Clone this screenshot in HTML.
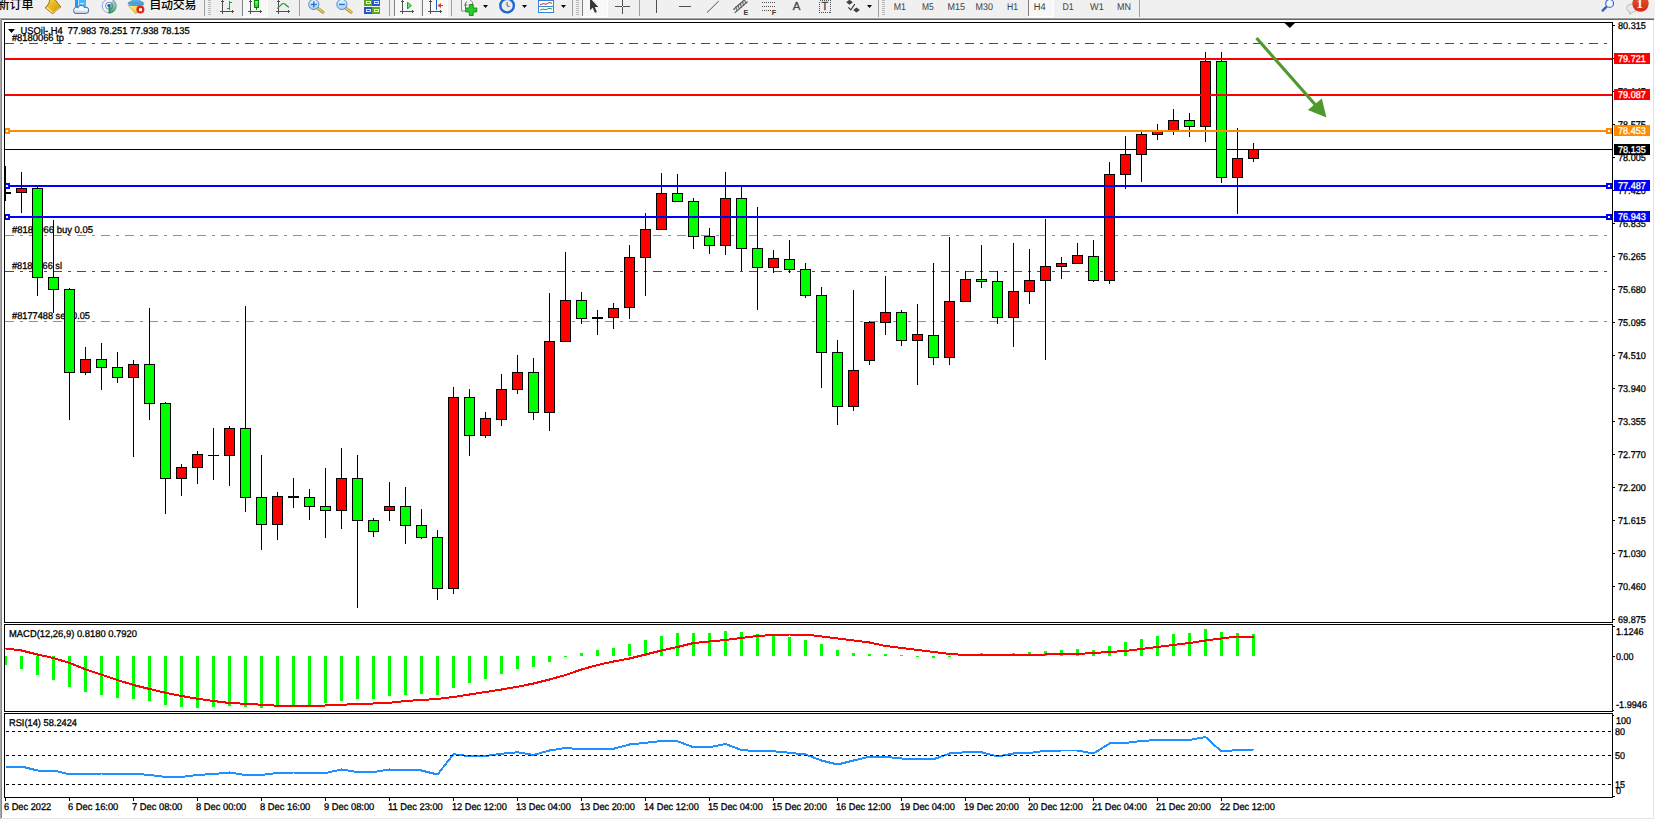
<!DOCTYPE html>
<html><head><meta charset="utf-8"><title>USOil H4</title>
<style>
html,body{margin:0;padding:0;}
body{width:1655px;height:820px;overflow:hidden;background:#fff;position:relative;font-family:"Liberation Sans","Noto Sans CJK SC",sans-serif;}
#tb{position:absolute;left:0;top:0;width:1655px;height:18px;background:#F0F0F0;overflow:hidden;}
#tbline1{position:absolute;left:0;top:17px;width:1654px;height:1px;background:#F5F5F5;}
#tbline2{position:absolute;left:0;top:18px;width:1654px;height:1px;background:#A0A0A0;}
#tbline3{position:absolute;left:0;top:19px;width:1654px;height:1px;background:#696969;}
#lft{position:absolute;left:0;top:18px;width:1px;height:801px;background:#A8A8A8;}
#lft2{position:absolute;left:1px;top:19px;width:1px;height:799px;background:#868686;}
#rgt{position:absolute;left:1653px;top:20px;width:1px;height:799px;background:#E3E3E3;}
#rgt2{position:absolute;left:1654px;top:0;width:1px;height:20px;background:#F0F0F0;}
#btm{position:absolute;left:2px;top:818px;width:1652px;height:1px;background:#E3E3E3;}
#btm2{display:none;}
svg{position:absolute;left:0;top:0;}
</style></head><body>
<svg width="1655" height="820" viewBox="0 0 1655 820">
<g shape-rendering="crispEdges">
<line x1="5" y1="43.5" x2="1612" y2="43.5" stroke="#FF0000" stroke-width="1" stroke-dasharray="9 6 3 6"/>
<line x1="5" y1="235.5" x2="1612" y2="235.5" stroke="#32CD32" stroke-width="1" stroke-dasharray="9 6 3 6"/>
<line x1="5" y1="271.5" x2="1612" y2="271.5" stroke="#FF0000" stroke-width="1" stroke-dasharray="9 6 3 6"/>
<line x1="5" y1="321.5" x2="1612" y2="321.5" stroke="#32CD32" stroke-width="1" stroke-dasharray="9 6 3 6"/>
<rect x="5" y="149" width="1607" height="1" fill="#000"/>
</g>
<g font-family="Liberation Sans, sans-serif" font-size="9.8" text-rendering="geometricPrecision" stroke="#000" stroke-width="0.3">
<text x="20.6" y="34" fill="#000" text-anchor="start" xml:space="preserve" textLength="169.1" lengthAdjust="spacingAndGlyphs">USOil-,H4&#160; 77.983 78.251 77.938 78.135</text>
<text x="11.9" y="41" fill="#000" text-anchor="start"  textLength="52.1" lengthAdjust="spacingAndGlyphs">#8180066 tp</text>
<text x="12" y="233" fill="#000" text-anchor="start"  textLength="81" lengthAdjust="spacingAndGlyphs">#8180066 buy 0.05</text>
<text x="12" y="269" fill="#000" text-anchor="start"  textLength="50" lengthAdjust="spacingAndGlyphs">#8180066 sl</text>
<text x="12" y="319" fill="#000" text-anchor="start"  textLength="78" lengthAdjust="spacingAndGlyphs">#8177488 sell 0.05</text>
</g>
<path d="M8 29 L15 29 L11.5 33 Z" fill="#000"/>
<g shape-rendering="crispEdges">
<rect x="5" y="166" width="1" height="35" fill="#000"/>
<rect x="5" y="192" width="6" height="2" fill="#000"/>
<rect x="21" y="172" width="1" height="41" fill="#000"/>
<rect x="16" y="188" width="11" height="5" fill="#000"/>
<rect x="17" y="189" width="9" height="3" fill="#FF0000"/>
<rect x="37" y="187" width="1" height="109" fill="#000"/>
<rect x="32" y="188" width="11" height="90" fill="#000"/>
<rect x="33" y="189" width="9" height="88" fill="#00FF00"/>
<rect x="53" y="220" width="1" height="93" fill="#000"/>
<rect x="48" y="277" width="11" height="13" fill="#000"/>
<rect x="49" y="278" width="9" height="11" fill="#00FF00"/>
<rect x="69" y="288" width="1" height="132" fill="#000"/>
<rect x="64" y="289" width="11" height="84" fill="#000"/>
<rect x="65" y="290" width="9" height="82" fill="#00FF00"/>
<rect x="85" y="347" width="1" height="28" fill="#000"/>
<rect x="80" y="359" width="11" height="14" fill="#000"/>
<rect x="81" y="360" width="9" height="12" fill="#FF0000"/>
<rect x="101" y="343" width="1" height="47" fill="#000"/>
<rect x="96" y="359" width="11" height="9" fill="#000"/>
<rect x="97" y="360" width="9" height="7" fill="#00FF00"/>
<rect x="117" y="352" width="1" height="31" fill="#000"/>
<rect x="112" y="367" width="11" height="11" fill="#000"/>
<rect x="113" y="368" width="9" height="9" fill="#00FF00"/>
<rect x="133" y="360" width="1" height="97" fill="#000"/>
<rect x="128" y="364" width="11" height="14" fill="#000"/>
<rect x="129" y="365" width="9" height="12" fill="#FF0000"/>
<rect x="149" y="308" width="1" height="112" fill="#000"/>
<rect x="144" y="364" width="11" height="40" fill="#000"/>
<rect x="145" y="365" width="9" height="38" fill="#00FF00"/>
<rect x="165" y="402" width="1" height="112" fill="#000"/>
<rect x="160" y="403" width="11" height="76" fill="#000"/>
<rect x="161" y="404" width="9" height="74" fill="#00FF00"/>
<rect x="181" y="464" width="1" height="32" fill="#000"/>
<rect x="176" y="467" width="11" height="12" fill="#000"/>
<rect x="177" y="468" width="9" height="10" fill="#FF0000"/>
<rect x="197" y="451" width="1" height="33" fill="#000"/>
<rect x="192" y="454" width="11" height="14" fill="#000"/>
<rect x="193" y="455" width="9" height="12" fill="#FF0000"/>
<rect x="213" y="428" width="1" height="52" fill="#000"/>
<rect x="208" y="455" width="11" height="1" fill="#000"/>
<rect x="229" y="426" width="1" height="60" fill="#000"/>
<rect x="224" y="428" width="11" height="28" fill="#000"/>
<rect x="225" y="429" width="9" height="26" fill="#FF0000"/>
<rect x="245" y="306" width="1" height="206" fill="#000"/>
<rect x="240" y="428" width="11" height="70" fill="#000"/>
<rect x="241" y="429" width="9" height="68" fill="#00FF00"/>
<rect x="261" y="455" width="1" height="95" fill="#000"/>
<rect x="256" y="497" width="11" height="28" fill="#000"/>
<rect x="257" y="498" width="9" height="26" fill="#00FF00"/>
<rect x="277" y="492" width="1" height="48" fill="#000"/>
<rect x="272" y="496" width="11" height="29" fill="#000"/>
<rect x="273" y="497" width="9" height="27" fill="#FF0000"/>
<rect x="293" y="478" width="1" height="30" fill="#000"/>
<rect x="288" y="496" width="11" height="2" fill="#000"/>
<rect x="309" y="489" width="1" height="31" fill="#000"/>
<rect x="304" y="497" width="11" height="10" fill="#000"/>
<rect x="305" y="498" width="9" height="8" fill="#00FF00"/>
<rect x="325" y="468" width="1" height="70" fill="#000"/>
<rect x="320" y="506" width="11" height="5" fill="#000"/>
<rect x="321" y="507" width="9" height="3" fill="#00FF00"/>
<rect x="341" y="448" width="1" height="81" fill="#000"/>
<rect x="336" y="478" width="11" height="33" fill="#000"/>
<rect x="337" y="479" width="9" height="31" fill="#FF0000"/>
<rect x="357" y="455" width="1" height="153" fill="#000"/>
<rect x="352" y="478" width="11" height="43" fill="#000"/>
<rect x="353" y="479" width="9" height="41" fill="#00FF00"/>
<rect x="373" y="518" width="1" height="19" fill="#000"/>
<rect x="368" y="520" width="11" height="12" fill="#000"/>
<rect x="369" y="521" width="9" height="10" fill="#00FF00"/>
<rect x="389" y="482" width="1" height="39" fill="#000"/>
<rect x="384" y="506" width="11" height="5" fill="#000"/>
<rect x="385" y="507" width="9" height="3" fill="#FF0000"/>
<rect x="405" y="487" width="1" height="57" fill="#000"/>
<rect x="400" y="506" width="11" height="20" fill="#000"/>
<rect x="401" y="507" width="9" height="18" fill="#00FF00"/>
<rect x="421" y="509" width="1" height="30" fill="#000"/>
<rect x="416" y="525" width="11" height="13" fill="#000"/>
<rect x="417" y="526" width="9" height="11" fill="#00FF00"/>
<rect x="437" y="530" width="1" height="70" fill="#000"/>
<rect x="432" y="537" width="11" height="52" fill="#000"/>
<rect x="433" y="538" width="9" height="50" fill="#00FF00"/>
<rect x="453" y="387" width="1" height="207" fill="#000"/>
<rect x="448" y="397" width="11" height="192" fill="#000"/>
<rect x="449" y="398" width="9" height="190" fill="#FF0000"/>
<rect x="469" y="389" width="1" height="67" fill="#000"/>
<rect x="464" y="397" width="11" height="39" fill="#000"/>
<rect x="465" y="398" width="9" height="37" fill="#00FF00"/>
<rect x="485" y="412" width="1" height="26" fill="#000"/>
<rect x="480" y="418" width="11" height="18" fill="#000"/>
<rect x="481" y="419" width="9" height="16" fill="#FF0000"/>
<rect x="501" y="374" width="1" height="52" fill="#000"/>
<rect x="496" y="389" width="11" height="31" fill="#000"/>
<rect x="497" y="390" width="9" height="29" fill="#FF0000"/>
<rect x="517" y="355" width="1" height="39" fill="#000"/>
<rect x="512" y="372" width="11" height="18" fill="#000"/>
<rect x="513" y="373" width="9" height="16" fill="#FF0000"/>
<rect x="533" y="358" width="1" height="62" fill="#000"/>
<rect x="528" y="372" width="11" height="41" fill="#000"/>
<rect x="529" y="373" width="9" height="39" fill="#00FF00"/>
<rect x="549" y="293" width="1" height="138" fill="#000"/>
<rect x="544" y="341" width="11" height="72" fill="#000"/>
<rect x="545" y="342" width="9" height="70" fill="#FF0000"/>
<rect x="565" y="252" width="1" height="90" fill="#000"/>
<rect x="560" y="300" width="11" height="42" fill="#000"/>
<rect x="561" y="301" width="9" height="40" fill="#FF0000"/>
<rect x="581" y="292" width="1" height="32" fill="#000"/>
<rect x="576" y="300" width="11" height="19" fill="#000"/>
<rect x="577" y="301" width="9" height="17" fill="#00FF00"/>
<rect x="597" y="310" width="1" height="25" fill="#000"/>
<rect x="592" y="317" width="11" height="2" fill="#000"/>
<rect x="613" y="303" width="1" height="26" fill="#000"/>
<rect x="608" y="308" width="11" height="10" fill="#000"/>
<rect x="609" y="309" width="9" height="8" fill="#FF0000"/>
<rect x="629" y="245" width="1" height="74" fill="#000"/>
<rect x="624" y="257" width="11" height="51" fill="#000"/>
<rect x="625" y="258" width="9" height="49" fill="#FF0000"/>
<rect x="645" y="213" width="1" height="83" fill="#000"/>
<rect x="640" y="229" width="11" height="29" fill="#000"/>
<rect x="641" y="230" width="9" height="27" fill="#FF0000"/>
<rect x="661" y="173" width="1" height="57" fill="#000"/>
<rect x="656" y="193" width="11" height="37" fill="#000"/>
<rect x="657" y="194" width="9" height="35" fill="#FF0000"/>
<rect x="677" y="174" width="1" height="28" fill="#000"/>
<rect x="672" y="193" width="11" height="9" fill="#000"/>
<rect x="673" y="194" width="9" height="7" fill="#00FF00"/>
<rect x="693" y="198" width="1" height="51" fill="#000"/>
<rect x="688" y="201" width="11" height="36" fill="#000"/>
<rect x="689" y="202" width="9" height="34" fill="#00FF00"/>
<rect x="709" y="228" width="1" height="26" fill="#000"/>
<rect x="704" y="236" width="11" height="10" fill="#000"/>
<rect x="705" y="237" width="9" height="8" fill="#00FF00"/>
<rect x="725" y="172" width="1" height="83" fill="#000"/>
<rect x="720" y="198" width="11" height="48" fill="#000"/>
<rect x="721" y="199" width="9" height="46" fill="#FF0000"/>
<rect x="741" y="187" width="1" height="84" fill="#000"/>
<rect x="736" y="198" width="11" height="51" fill="#000"/>
<rect x="737" y="199" width="9" height="49" fill="#00FF00"/>
<rect x="757" y="207" width="1" height="103" fill="#000"/>
<rect x="752" y="248" width="11" height="20" fill="#000"/>
<rect x="753" y="249" width="9" height="18" fill="#00FF00"/>
<rect x="773" y="250" width="1" height="23" fill="#000"/>
<rect x="768" y="258" width="11" height="10" fill="#000"/>
<rect x="769" y="259" width="9" height="8" fill="#FF0000"/>
<rect x="789" y="240" width="1" height="33" fill="#000"/>
<rect x="784" y="259" width="11" height="11" fill="#000"/>
<rect x="785" y="260" width="9" height="9" fill="#00FF00"/>
<rect x="805" y="263" width="1" height="35" fill="#000"/>
<rect x="800" y="269" width="11" height="27" fill="#000"/>
<rect x="801" y="270" width="9" height="25" fill="#00FF00"/>
<rect x="821" y="287" width="1" height="101" fill="#000"/>
<rect x="816" y="295" width="11" height="58" fill="#000"/>
<rect x="817" y="296" width="9" height="56" fill="#00FF00"/>
<rect x="837" y="340" width="1" height="85" fill="#000"/>
<rect x="832" y="352" width="11" height="55" fill="#000"/>
<rect x="833" y="353" width="9" height="53" fill="#00FF00"/>
<rect x="853" y="290" width="1" height="121" fill="#000"/>
<rect x="848" y="370" width="11" height="37" fill="#000"/>
<rect x="849" y="371" width="9" height="35" fill="#FF0000"/>
<rect x="869" y="321" width="1" height="44" fill="#000"/>
<rect x="864" y="322" width="11" height="39" fill="#000"/>
<rect x="865" y="323" width="9" height="37" fill="#FF0000"/>
<rect x="885" y="276" width="1" height="59" fill="#000"/>
<rect x="880" y="312" width="11" height="11" fill="#000"/>
<rect x="881" y="313" width="9" height="9" fill="#FF0000"/>
<rect x="901" y="310" width="1" height="36" fill="#000"/>
<rect x="896" y="312" width="11" height="29" fill="#000"/>
<rect x="897" y="313" width="9" height="27" fill="#00FF00"/>
<rect x="917" y="304" width="1" height="81" fill="#000"/>
<rect x="912" y="334" width="11" height="7" fill="#000"/>
<rect x="913" y="335" width="9" height="5" fill="#FF0000"/>
<rect x="933" y="263" width="1" height="102" fill="#000"/>
<rect x="928" y="335" width="11" height="23" fill="#000"/>
<rect x="929" y="336" width="9" height="21" fill="#00FF00"/>
<rect x="949" y="237" width="1" height="128" fill="#000"/>
<rect x="944" y="301" width="11" height="57" fill="#000"/>
<rect x="945" y="302" width="9" height="55" fill="#FF0000"/>
<rect x="965" y="271" width="1" height="31" fill="#000"/>
<rect x="960" y="279" width="11" height="23" fill="#000"/>
<rect x="961" y="280" width="9" height="21" fill="#FF0000"/>
<rect x="981" y="245" width="1" height="43" fill="#000"/>
<rect x="976" y="279" width="11" height="3" fill="#000"/>
<rect x="977" y="280" width="9" height="1" fill="#00FF00"/>
<rect x="997" y="271" width="1" height="53" fill="#000"/>
<rect x="992" y="281" width="11" height="37" fill="#000"/>
<rect x="993" y="282" width="9" height="35" fill="#00FF00"/>
<rect x="1013" y="243" width="1" height="104" fill="#000"/>
<rect x="1008" y="291" width="11" height="27" fill="#000"/>
<rect x="1009" y="292" width="9" height="25" fill="#FF0000"/>
<rect x="1029" y="249" width="1" height="55" fill="#000"/>
<rect x="1024" y="280" width="11" height="12" fill="#000"/>
<rect x="1025" y="281" width="9" height="10" fill="#FF0000"/>
<rect x="1045" y="219" width="1" height="141" fill="#000"/>
<rect x="1040" y="266" width="11" height="15" fill="#000"/>
<rect x="1041" y="267" width="9" height="13" fill="#FF0000"/>
<rect x="1061" y="257" width="1" height="22" fill="#000"/>
<rect x="1056" y="263" width="11" height="4" fill="#000"/>
<rect x="1057" y="264" width="9" height="2" fill="#FF0000"/>
<rect x="1077" y="243" width="1" height="21" fill="#000"/>
<rect x="1072" y="255" width="11" height="9" fill="#000"/>
<rect x="1073" y="256" width="9" height="7" fill="#FF0000"/>
<rect x="1093" y="240" width="1" height="42" fill="#000"/>
<rect x="1088" y="256" width="11" height="25" fill="#000"/>
<rect x="1089" y="257" width="9" height="23" fill="#00FF00"/>
<rect x="1109" y="162" width="1" height="122" fill="#000"/>
<rect x="1104" y="174" width="11" height="107" fill="#000"/>
<rect x="1105" y="175" width="9" height="105" fill="#FF0000"/>
<rect x="1125" y="136" width="1" height="53" fill="#000"/>
<rect x="1120" y="154" width="11" height="21" fill="#000"/>
<rect x="1121" y="155" width="9" height="19" fill="#FF0000"/>
<rect x="1141" y="132" width="1" height="50" fill="#000"/>
<rect x="1136" y="134" width="11" height="21" fill="#000"/>
<rect x="1137" y="135" width="9" height="19" fill="#FF0000"/>
<rect x="1157" y="124" width="1" height="16" fill="#000"/>
<rect x="1152" y="131" width="11" height="4" fill="#000"/>
<rect x="1153" y="132" width="9" height="2" fill="#FF0000"/>
<rect x="1173" y="109" width="1" height="26" fill="#000"/>
<rect x="1168" y="120" width="11" height="12" fill="#000"/>
<rect x="1169" y="121" width="9" height="10" fill="#FF0000"/>
<rect x="1189" y="113" width="1" height="24" fill="#000"/>
<rect x="1184" y="120" width="11" height="7" fill="#000"/>
<rect x="1185" y="121" width="9" height="5" fill="#00FF00"/>
<rect x="1205" y="52" width="1" height="90" fill="#000"/>
<rect x="1200" y="61" width="11" height="66" fill="#000"/>
<rect x="1201" y="62" width="9" height="64" fill="#FF0000"/>
<rect x="1221" y="52" width="1" height="131" fill="#000"/>
<rect x="1216" y="61" width="11" height="117" fill="#000"/>
<rect x="1217" y="62" width="9" height="115" fill="#00FF00"/>
<rect x="1237" y="128" width="1" height="86" fill="#000"/>
<rect x="1232" y="158" width="11" height="20" fill="#000"/>
<rect x="1233" y="159" width="9" height="18" fill="#FF0000"/>
<rect x="1253" y="143" width="1" height="19" fill="#000"/>
<rect x="1248" y="149" width="11" height="10" fill="#000"/>
<rect x="1249" y="150" width="9" height="8" fill="#FF0000"/>
</g>
<g shape-rendering="crispEdges">
<rect x="5" y="58" width="1607" height="2" fill="#FF0000"/>
<rect x="5" y="94" width="1607" height="2" fill="#FF0000"/>
<rect x="5" y="130" width="1607" height="2" fill="#FF8C00"/><rect x="4" y="128" width="6" height="6" fill="#FF8C00"/><rect x="6" y="130" width="2" height="2" fill="#fff"/><rect x="1606" y="128" width="6" height="6" fill="#FF8C00"/><rect x="1608" y="130" width="2" height="2" fill="#fff"/>
<rect x="5" y="185" width="1607" height="2" fill="#0000FF"/><rect x="4" y="183" width="6" height="6" fill="#0000FF"/><rect x="6" y="185" width="2" height="2" fill="#fff"/><rect x="1606" y="183" width="6" height="6" fill="#0000FF"/><rect x="1608" y="185" width="2" height="2" fill="#fff"/>
<rect x="5" y="216" width="1607" height="2" fill="#0000FF"/><rect x="4" y="214" width="6" height="6" fill="#0000FF"/><rect x="6" y="216" width="2" height="2" fill="#fff"/><rect x="1606" y="214" width="6" height="6" fill="#0000FF"/><rect x="1608" y="216" width="2" height="2" fill="#fff"/>
</g>
<line x1="1256.5" y1="38" x2="1316" y2="105.5" stroke="#4E9A2F" stroke-width="3.2"/>
<path d="M1326.5 117.4 L1321.8 98.4 L1307.8 110.1 Z" fill="#4E9A2F"/>
<path d="M1284.5 23 L1295 23 L1289.8 28 Z" fill="#000"/>
<g shape-rendering="crispEdges">
<rect x="5" y="656" width="2" height="9" fill="#00FF00"/>
<rect x="20" y="656" width="3" height="13" fill="#00FF00"/>
<rect x="36" y="656" width="3" height="19" fill="#00FF00"/>
<rect x="52" y="656" width="3" height="24" fill="#00FF00"/>
<rect x="68" y="656" width="3" height="31" fill="#00FF00"/>
<rect x="84" y="656" width="3" height="36" fill="#00FF00"/>
<rect x="100" y="656" width="3" height="39" fill="#00FF00"/>
<rect x="116" y="656" width="3" height="42" fill="#00FF00"/>
<rect x="132" y="656" width="3" height="43" fill="#00FF00"/>
<rect x="148" y="656" width="3" height="45" fill="#00FF00"/>
<rect x="164" y="656" width="3" height="49" fill="#00FF00"/>
<rect x="180" y="656" width="3" height="51" fill="#00FF00"/>
<rect x="196" y="656" width="3" height="52" fill="#00FF00"/>
<rect x="212" y="656" width="3" height="51" fill="#00FF00"/>
<rect x="228" y="656" width="3" height="50" fill="#00FF00"/>
<rect x="244" y="656" width="3" height="51" fill="#00FF00"/>
<rect x="260" y="656" width="3" height="52" fill="#00FF00"/>
<rect x="276" y="656" width="3" height="50" fill="#00FF00"/>
<rect x="292" y="656" width="3" height="50" fill="#00FF00"/>
<rect x="308" y="656" width="3" height="49" fill="#00FF00"/>
<rect x="324" y="656" width="3" height="47" fill="#00FF00"/>
<rect x="340" y="656" width="3" height="45" fill="#00FF00"/>
<rect x="356" y="656" width="3" height="43" fill="#00FF00"/>
<rect x="372" y="656" width="3" height="43" fill="#00FF00"/>
<rect x="388" y="656" width="3" height="40" fill="#00FF00"/>
<rect x="404" y="656" width="3" height="39" fill="#00FF00"/>
<rect x="420" y="656" width="3" height="38" fill="#00FF00"/>
<rect x="436" y="656" width="3" height="39" fill="#00FF00"/>
<rect x="452" y="656" width="3" height="32" fill="#00FF00"/>
<rect x="468" y="656" width="3" height="27" fill="#00FF00"/>
<rect x="484" y="656" width="3" height="23" fill="#00FF00"/>
<rect x="500" y="656" width="3" height="18" fill="#00FF00"/>
<rect x="516" y="656" width="3" height="13" fill="#00FF00"/>
<rect x="532" y="656" width="3" height="11" fill="#00FF00"/>
<rect x="548" y="656" width="3" height="6" fill="#00FF00"/>
<rect x="564" y="656" width="3" height="1" fill="#00FF00"/>
<rect x="580" y="653" width="3" height="3" fill="#00FF00"/>
<rect x="596" y="650" width="3" height="6" fill="#00FF00"/>
<rect x="612" y="648" width="3" height="8" fill="#00FF00"/>
<rect x="628" y="644" width="3" height="12" fill="#00FF00"/>
<rect x="644" y="640" width="3" height="16" fill="#00FF00"/>
<rect x="660" y="636" width="3" height="20" fill="#00FF00"/>
<rect x="676" y="633" width="3" height="23" fill="#00FF00"/>
<rect x="692" y="633" width="3" height="23" fill="#00FF00"/>
<rect x="708" y="633" width="3" height="23" fill="#00FF00"/>
<rect x="724" y="631" width="3" height="25" fill="#00FF00"/>
<rect x="740" y="632" width="3" height="24" fill="#00FF00"/>
<rect x="756" y="634" width="3" height="22" fill="#00FF00"/>
<rect x="772" y="635" width="3" height="21" fill="#00FF00"/>
<rect x="788" y="637" width="3" height="19" fill="#00FF00"/>
<rect x="804" y="640" width="3" height="16" fill="#00FF00"/>
<rect x="820" y="644" width="3" height="12" fill="#00FF00"/>
<rect x="836" y="650" width="3" height="6" fill="#00FF00"/>
<rect x="852" y="653" width="3" height="3" fill="#00FF00"/>
<rect x="868" y="654" width="3" height="2" fill="#00FF00"/>
<rect x="884" y="654" width="3" height="2" fill="#00FF00"/>
<rect x="900" y="655" width="3" height="1" fill="#00FF00"/>
<rect x="916" y="656" width="3" height="1" fill="#00FF00"/>
<rect x="932" y="656" width="3" height="2" fill="#00FF00"/>
<rect x="948" y="656" width="3" height="1" fill="#00FF00"/>
<rect x="964" y="655" width="3" height="1" fill="#00FF00"/>
<rect x="980" y="653" width="3" height="3" fill="#00FF00"/>
<rect x="996" y="655" width="3" height="1" fill="#00FF00"/>
<rect x="1012" y="653" width="3" height="3" fill="#00FF00"/>
<rect x="1028" y="652" width="3" height="4" fill="#00FF00"/>
<rect x="1044" y="651" width="3" height="5" fill="#00FF00"/>
<rect x="1060" y="650" width="3" height="6" fill="#00FF00"/>
<rect x="1076" y="649" width="3" height="7" fill="#00FF00"/>
<rect x="1092" y="650" width="3" height="6" fill="#00FF00"/>
<rect x="1108" y="646" width="3" height="10" fill="#00FF00"/>
<rect x="1124" y="642" width="3" height="14" fill="#00FF00"/>
<rect x="1140" y="639" width="3" height="17" fill="#00FF00"/>
<rect x="1156" y="636" width="3" height="20" fill="#00FF00"/>
<rect x="1172" y="634" width="3" height="22" fill="#00FF00"/>
<rect x="1188" y="633" width="3" height="23" fill="#00FF00"/>
<rect x="1204" y="629" width="3" height="27" fill="#00FF00"/>
<rect x="1220" y="632" width="3" height="24" fill="#00FF00"/>
<rect x="1236" y="633" width="3" height="23" fill="#00FF00"/>
<rect x="1252" y="634" width="3" height="22" fill="#00FF00"/>
</g>
<polyline points="5.5,648.5 21.5,650.5 37.5,654.5 53.5,658.0 69.5,663.0 85.5,669.25 101.5,674.75 117.5,680.0 133.5,685.0 149.5,689.0 165.5,692.75 181.5,696.0 197.5,698.75 213.5,701.0 229.5,703.0 245.5,703.75 261.5,704.75 277.5,705.75 293.5,706.0 309.5,706.0 325.5,705.5 341.5,704.75 357.5,704.0 373.5,703.5 389.5,702.75 405.5,701.0 421.5,700.0 437.5,699.0 453.5,697.0 469.5,694.5 485.5,692.0 501.5,689.5 517.5,686.75 533.5,683.5 549.5,679.5 565.5,675.0 581.5,669.5 597.5,665.0 613.5,661.5 629.5,658.5 645.5,654.5 661.5,650.5 677.5,647.0 693.5,643.0 709.5,641.5 725.5,640.0 741.5,638.0 757.5,636.0 773.5,635.0 789.5,634.5 805.5,634.5 821.5,636.5 837.5,638.5 853.5,640.5 869.5,642.5 885.5,646.0 901.5,648.0 917.5,650.0 933.5,652.0 949.5,654.0 965.5,655.0 981.5,655.0 997.5,655.0 1013.5,655.0 1029.5,655.0 1045.5,654.5 1061.5,654.25 1077.5,654.0 1093.5,653.0 1109.5,652.0 1125.5,651.0 1141.5,649.0 1157.5,647.0 1173.5,645.0 1189.5,643.0 1205.5,640.5 1221.5,638.5 1237.5,636.5 1253.5,636.5" fill="none" stroke="#FF0000" stroke-width="2" stroke-linejoin="round" shape-rendering="crispEdges"/>
<polyline points="5.5,766.5 21.5,766.5 37.5,770.5 53.5,770.5 69.5,774.25 85.5,774.0 101.5,773.5 117.5,773.5 133.5,773.5 149.5,775.0 165.5,777.0 181.5,777.0 197.5,775.0 213.5,774.0 229.5,772.5 245.5,775.0 261.5,775.0 277.5,773.0 293.5,772.5 309.5,773.0 325.5,773.0 341.5,769.5 357.5,772.0 373.5,772.0 389.5,769.5 405.5,770.0 421.5,770.5 437.5,774.5 453.5,754.25 469.5,756.25 485.5,756.0 501.5,753.75 517.5,752.25 533.5,755.0 549.5,750.5 565.5,748.0 581.5,749.25 597.5,749.25 613.5,748.75 629.5,744.5 645.5,742.75 661.5,741.0 677.5,741.25 693.5,747.25 709.5,747.25 725.5,744.0 741.5,750.0 757.5,751.25 773.5,751.25 789.5,752.75 805.5,754.5 821.5,760.5 837.5,764.5 853.5,760.5 869.5,756.75 885.5,756.75 901.5,758.5 917.5,758.5 933.5,759.25 949.5,753.5 965.5,752.25 981.5,752.25 997.5,756.5 1013.5,753.5 1029.5,753.0 1045.5,750.75 1061.5,750.5 1077.5,750.5 1093.5,753.5 1109.5,743.5 1125.5,743.0 1141.5,741.0 1157.5,740.0 1173.5,740.0 1189.5,740.0 1205.5,737.0 1221.5,751.5 1237.5,750.0 1253.5,749.5" fill="none" stroke="#1E90FF" stroke-width="2" stroke-linejoin="round" shape-rendering="crispEdges"/>
<g shape-rendering="crispEdges">
<line x1="6" y1="731.5" x2="1612" y2="731.5" stroke="#000" stroke-width="1" stroke-dasharray="3 3"/>
<line x1="6" y1="755.5" x2="1612" y2="755.5" stroke="#000" stroke-width="1" stroke-dasharray="3 3"/>
<line x1="6" y1="784.5" x2="1612" y2="784.5" stroke="#000" stroke-width="1" stroke-dasharray="3 3"/>
</g>
<g shape-rendering="crispEdges" fill="#000">
<rect x="4" y="22" width="1609" height="1" fill="#000"/>
<rect x="4" y="22" width="1" height="601" fill="#000"/>
<rect x="4" y="624" width="1" height="88" fill="#000"/>
<rect x="4" y="713" width="1" height="85" fill="#000"/>
<rect x="1612" y="22" width="1" height="601" fill="#000"/>
<rect x="1612" y="624" width="1" height="88" fill="#000"/>
<rect x="1612" y="713" width="1" height="85" fill="#000"/>
<rect x="4" y="622" width="1609" height="1" fill="#000"/>
<rect x="4" y="624" width="1609" height="1" fill="#000"/>
<rect x="4" y="711" width="1609" height="1" fill="#000"/>
<rect x="4" y="713" width="1609" height="1" fill="#000"/>
<rect x="4" y="797" width="1609" height="1" fill="#000"/>
<rect x="1613" y="25" width="2" height="1" fill="#000"/>
<rect x="1613" y="58" width="2" height="1" fill="#000"/>
<rect x="1613" y="91" width="2" height="1" fill="#000"/>
<rect x="1613" y="124" width="2" height="1" fill="#000"/>
<rect x="1613" y="157" width="2" height="1" fill="#000"/>
<rect x="1613" y="190" width="2" height="1" fill="#000"/>
<rect x="1613" y="223" width="2" height="1" fill="#000"/>
<rect x="1613" y="256" width="2" height="1" fill="#000"/>
<rect x="1613" y="289" width="2" height="1" fill="#000"/>
<rect x="1613" y="322" width="2" height="1" fill="#000"/>
<rect x="1613" y="355" width="2" height="1" fill="#000"/>
<rect x="1613" y="388" width="2" height="1" fill="#000"/>
<rect x="1613" y="421" width="2" height="1" fill="#000"/>
<rect x="1613" y="454" width="2" height="1" fill="#000"/>
<rect x="1613" y="487" width="2" height="1" fill="#000"/>
<rect x="1613" y="520" width="2" height="1" fill="#000"/>
<rect x="1613" y="553" width="2" height="1" fill="#000"/>
<rect x="1613" y="586" width="2" height="1" fill="#000"/>
<rect x="1613" y="619" width="2" height="1" fill="#000"/>
<rect x="1613" y="656" width="2" height="1" fill="#000"/>
<rect x="1613" y="796" width="2" height="1" fill="#000"/>
<rect x="1613" y="626" width="2" height="1" fill="#000"/>
<rect x="1613" y="710" width="1" height="1" fill="#000"/>
<rect x="1613" y="715" width="1" height="1" fill="#000"/>
<rect x="5" y="798" width="1" height="3" fill="#000"/>
<rect x="69" y="798" width="1" height="3" fill="#000"/>
<rect x="133" y="798" width="1" height="3" fill="#000"/>
<rect x="197" y="798" width="1" height="3" fill="#000"/>
<rect x="261" y="798" width="1" height="3" fill="#000"/>
<rect x="325" y="798" width="1" height="3" fill="#000"/>
<rect x="389" y="798" width="1" height="3" fill="#000"/>
<rect x="453" y="798" width="1" height="3" fill="#000"/>
<rect x="517" y="798" width="1" height="3" fill="#000"/>
<rect x="581" y="798" width="1" height="3" fill="#000"/>
<rect x="645" y="798" width="1" height="3" fill="#000"/>
<rect x="709" y="798" width="1" height="3" fill="#000"/>
<rect x="773" y="798" width="1" height="3" fill="#000"/>
<rect x="837" y="798" width="1" height="3" fill="#000"/>
<rect x="901" y="798" width="1" height="3" fill="#000"/>
<rect x="965" y="798" width="1" height="3" fill="#000"/>
<rect x="1029" y="798" width="1" height="3" fill="#000"/>
<rect x="1093" y="798" width="1" height="3" fill="#000"/>
<rect x="1157" y="798" width="1" height="3" fill="#000"/>
<rect x="1221" y="798" width="1" height="3" fill="#000"/>
</g>
<g font-family="Liberation Sans, sans-serif" font-size="9.8" text-rendering="geometricPrecision" stroke="#000" stroke-width="0.3">
<text x="1618" y="29" fill="#000" text-anchor="start"  textLength="27.8" lengthAdjust="spacingAndGlyphs">80.315</text>
<text x="1618" y="62" fill="#000" text-anchor="start"  textLength="27.8" lengthAdjust="spacingAndGlyphs">79.730</text>
<text x="1618" y="95" fill="#000" text-anchor="start"  textLength="27.8" lengthAdjust="spacingAndGlyphs">79.145</text>
<text x="1618" y="128" fill="#000" text-anchor="start"  textLength="27.8" lengthAdjust="spacingAndGlyphs">78.575</text>
<text x="1618" y="161" fill="#000" text-anchor="start"  textLength="27.8" lengthAdjust="spacingAndGlyphs">78.005</text>
<text x="1618" y="194" fill="#000" text-anchor="start"  textLength="27.8" lengthAdjust="spacingAndGlyphs">77.420</text>
<text x="1618" y="227" fill="#000" text-anchor="start"  textLength="27.8" lengthAdjust="spacingAndGlyphs">76.835</text>
<text x="1618" y="260" fill="#000" text-anchor="start"  textLength="27.8" lengthAdjust="spacingAndGlyphs">76.265</text>
<text x="1618" y="293" fill="#000" text-anchor="start"  textLength="27.8" lengthAdjust="spacingAndGlyphs">75.680</text>
<text x="1618" y="326" fill="#000" text-anchor="start"  textLength="27.8" lengthAdjust="spacingAndGlyphs">75.095</text>
<text x="1618" y="359" fill="#000" text-anchor="start"  textLength="27.8" lengthAdjust="spacingAndGlyphs">74.510</text>
<text x="1618" y="392" fill="#000" text-anchor="start"  textLength="27.8" lengthAdjust="spacingAndGlyphs">73.940</text>
<text x="1618" y="425" fill="#000" text-anchor="start"  textLength="27.8" lengthAdjust="spacingAndGlyphs">73.355</text>
<text x="1618" y="458" fill="#000" text-anchor="start"  textLength="27.8" lengthAdjust="spacingAndGlyphs">72.770</text>
<text x="1618" y="491" fill="#000" text-anchor="start"  textLength="27.8" lengthAdjust="spacingAndGlyphs">72.200</text>
<text x="1618" y="524" fill="#000" text-anchor="start"  textLength="27.8" lengthAdjust="spacingAndGlyphs">71.615</text>
<text x="1618" y="557" fill="#000" text-anchor="start"  textLength="27.8" lengthAdjust="spacingAndGlyphs">71.030</text>
<text x="1618" y="590" fill="#000" text-anchor="start"  textLength="27.8" lengthAdjust="spacingAndGlyphs">70.460</text>
<text x="1618" y="623" fill="#000" text-anchor="start"  textLength="27.8" lengthAdjust="spacingAndGlyphs">69.875</text>
<text x="1616" y="635" fill="#000" text-anchor="start"  textLength="27.5" lengthAdjust="spacingAndGlyphs">1.1246</text>
<text x="1616" y="660" fill="#000" text-anchor="start"  textLength="17.6" lengthAdjust="spacingAndGlyphs">0.00</text>
<text x="1616" y="708" fill="#000" text-anchor="start"  textLength="31" lengthAdjust="spacingAndGlyphs">-1.9946</text>
<text x="1616" y="724" fill="#000" text-anchor="start"  textLength="15" lengthAdjust="spacingAndGlyphs">100</text>
<text x="1615" y="735" fill="#000" text-anchor="start"  textLength="10" lengthAdjust="spacingAndGlyphs">80</text>
<text x="1615" y="759" fill="#000" text-anchor="start"  textLength="10" lengthAdjust="spacingAndGlyphs">50</text>
<text x="1615" y="788" fill="#000" text-anchor="start"  textLength="10" lengthAdjust="spacingAndGlyphs">15</text>
<text x="1616" y="794" fill="#000" text-anchor="start"  textLength="5" lengthAdjust="spacingAndGlyphs">0</text>
<text x="9" y="637" fill="#000" text-anchor="start"  textLength="128" lengthAdjust="spacingAndGlyphs">MACD(12,26,9) 0.8180 0.7920</text>
<text x="9" y="726" fill="#000" text-anchor="start"  textLength="68" lengthAdjust="spacingAndGlyphs">RSI(14) 58.2424</text>
<text x="4" y="810" fill="#000" text-anchor="start"  textLength="47.2" lengthAdjust="spacingAndGlyphs">6 Dec 2022</text>
<text x="68" y="810" fill="#000" text-anchor="start"  textLength="50.3" lengthAdjust="spacingAndGlyphs">6 Dec 16:00</text>
<text x="132" y="810" fill="#000" text-anchor="start"  textLength="50.3" lengthAdjust="spacingAndGlyphs">7 Dec 08:00</text>
<text x="196" y="810" fill="#000" text-anchor="start"  textLength="50.3" lengthAdjust="spacingAndGlyphs">8 Dec 00:00</text>
<text x="260" y="810" fill="#000" text-anchor="start"  textLength="50.3" lengthAdjust="spacingAndGlyphs">8 Dec 16:00</text>
<text x="324" y="810" fill="#000" text-anchor="start"  textLength="50.3" lengthAdjust="spacingAndGlyphs">9 Dec 08:00</text>
<text x="388" y="810" fill="#000" text-anchor="start"  textLength="54.8" lengthAdjust="spacingAndGlyphs">11 Dec 23:00</text>
<text x="452" y="810" fill="#000" text-anchor="start"  textLength="54.8" lengthAdjust="spacingAndGlyphs">12 Dec 12:00</text>
<text x="516" y="810" fill="#000" text-anchor="start"  textLength="54.8" lengthAdjust="spacingAndGlyphs">13 Dec 04:00</text>
<text x="580" y="810" fill="#000" text-anchor="start"  textLength="54.8" lengthAdjust="spacingAndGlyphs">13 Dec 20:00</text>
<text x="644" y="810" fill="#000" text-anchor="start"  textLength="54.8" lengthAdjust="spacingAndGlyphs">14 Dec 12:00</text>
<text x="708" y="810" fill="#000" text-anchor="start"  textLength="54.8" lengthAdjust="spacingAndGlyphs">15 Dec 04:00</text>
<text x="772" y="810" fill="#000" text-anchor="start"  textLength="54.8" lengthAdjust="spacingAndGlyphs">15 Dec 20:00</text>
<text x="836" y="810" fill="#000" text-anchor="start"  textLength="54.8" lengthAdjust="spacingAndGlyphs">16 Dec 12:00</text>
<text x="900" y="810" fill="#000" text-anchor="start"  textLength="54.8" lengthAdjust="spacingAndGlyphs">19 Dec 04:00</text>
<text x="964" y="810" fill="#000" text-anchor="start"  textLength="54.8" lengthAdjust="spacingAndGlyphs">19 Dec 20:00</text>
<text x="1028" y="810" fill="#000" text-anchor="start"  textLength="54.8" lengthAdjust="spacingAndGlyphs">20 Dec 12:00</text>
<text x="1092" y="810" fill="#000" text-anchor="start"  textLength="54.8" lengthAdjust="spacingAndGlyphs">21 Dec 04:00</text>
<text x="1156" y="810" fill="#000" text-anchor="start"  textLength="54.8" lengthAdjust="spacingAndGlyphs">21 Dec 20:00</text>
<text x="1220" y="810" fill="#000" text-anchor="start"  textLength="54.8" lengthAdjust="spacingAndGlyphs">22 Dec 12:00</text>
</g>
<g shape-rendering="crispEdges">
<rect x="1614" y="53" width="36" height="11" fill="#FF0000"/>
<rect x="1614" y="89" width="36" height="11" fill="#FF0000"/>
<rect x="1614" y="125" width="36" height="11" fill="#FF8C00"/>
<rect x="1614" y="144" width="36" height="11" fill="#000000"/>
<rect x="1614" y="180" width="36" height="11" fill="#0000FF"/>
<rect x="1614" y="211" width="36" height="11" fill="#0000FF"/>
</g>
<g font-family="Liberation Sans, sans-serif" font-size="9.8" text-rendering="geometricPrecision" stroke="#fff" stroke-width="0.3" fill="#fff">
<text x="1618" y="62" fill="#fff" text-anchor="start"  textLength="27.8" lengthAdjust="spacingAndGlyphs">79.721</text>
<text x="1618" y="98" fill="#fff" text-anchor="start"  textLength="27.8" lengthAdjust="spacingAndGlyphs">79.087</text>
<text x="1618" y="134" fill="#fff" text-anchor="start"  textLength="27.8" lengthAdjust="spacingAndGlyphs">78.453</text>
<text x="1618" y="153" fill="#fff" text-anchor="start"  textLength="27.8" lengthAdjust="spacingAndGlyphs">78.135</text>
<text x="1618" y="189" fill="#fff" text-anchor="start"  textLength="27.8" lengthAdjust="spacingAndGlyphs">77.487</text>
<text x="1618" y="220" fill="#fff" text-anchor="start"  textLength="27.8" lengthAdjust="spacingAndGlyphs">76.943</text>
</g>
</svg>
<div id="tb"><svg width="1655" height="18" viewBox="0 0 1655 18" style="position:absolute;left:0;top:0">
<defs><linearGradient id="gold" x1="0" y1="0" x2="1" y2="1"><stop offset="0" stop-color="#F9D84A"/><stop offset="0.6" stop-color="#E2AE14"/><stop offset="1" stop-color="#B97A08"/></linearGradient><linearGradient id="cloud" gradientUnits="userSpaceOnUse" x1="0" y1="6" x2="0" y2="13.5"><stop offset="0" stop-color="#FFFFFF"/><stop offset="0.5" stop-color="#F4F6FA"/><stop offset="1" stop-color="#B4C2DC"/></linearGradient><linearGradient id="grn" x1="0" y1="0" x2="0" y2="1"><stop offset="0" stop-color="#8CF08C"/><stop offset="1" stop-color="#20C830"/></linearGradient><linearGradient id="redc" x1="0" y1="0" x2="0" y2="1"><stop offset="0" stop-color="#E8552F"/><stop offset="1" stop-color="#D02A14"/></linearGradient><linearGradient id="lens" x1="0" y1="0" x2="0" y2="1"><stop offset="0" stop-color="#E4F2FC"/><stop offset="1" stop-color="#A8D0F0"/></linearGradient><linearGradient id="hat" x1="0" y1="0" x2="0" y2="1"><stop offset="0" stop-color="#7CC8E8"/><stop offset="1" stop-color="#3C98D0"/></linearGradient><linearGradient id="yel" x1="0" y1="0" x2="1" y2="1"><stop offset="0" stop-color="#FFF08C"/><stop offset="1" stop-color="#F0C020"/></linearGradient><linearGradient id="wedge" x1="0" y1="1" x2="0.6" y2="0"><stop offset="0" stop-color="#22A02C"/><stop offset="0.55" stop-color="#7CBE84"/><stop offset="1" stop-color="#C4DCCC"/></linearGradient></defs>
<text x="-2.4" y="8.5" font-family="Liberation Sans, Noto Sans CJK SC, sans-serif" font-size="12" font-weight="500" fill="#000" letter-spacing="-0.1">新订单</text>
<text x="149.2" y="8.5" font-family="Liberation Sans, Noto Sans CJK SC, sans-serif" font-size="12" font-weight="500" fill="#000" letter-spacing="-0.2">自动交易</text>
<path d="M49.8 -1 C49.6 2.5 48 5.6 45.1 7.8 L52.6 13.6 L60.8 7.1 L54.6 -1 Z" fill="url(#gold)" stroke="#9A6206" stroke-width="0.9"/>
<path d="M46.8 7.7 L52.8 12.3" fill="none" stroke="#FBE9A2" stroke-width="1.2"/><path d="M53.6 12.4 L59.8 7.5" fill="none" stroke="#EBDCA4" stroke-width="0.9"/>
<rect x="75" y="-1" width="11" height="8" fill="#1C9CF4"/><rect x="79" y="-1" width="7" height="8" fill="#48B4FA"/>
<rect x="78" y="-1" width="0.8" height="7.5" fill="#E8F6FF"/><rect x="80.2" y="2.9" width="4" height="0.9" fill="#E8F6FF"/>
<g fill="#4A6CA8"><circle cx="76.7" cy="10.4" r="3.5"/><circle cx="81.3" cy="9.1" r="3.9"/><circle cx="85.6" cy="10.3" r="3.5"/><rect x="76.5" y="10" width="9.3" height="3.9"/></g>
<g fill="url(#cloud)"><circle cx="76.7" cy="10.4" r="2.6"/><circle cx="81.3" cy="9.1" r="3"/><circle cx="85.6" cy="10.3" r="2.6"/><rect x="76.5" y="9.5" width="9.3" height="3.5"/></g>
<circle cx="109.1" cy="5.8" r="7.4" fill="#F6F4EE"/>
<path d="M109.1 5.8 L109.1 13.6 A7.8 7.8 0 0 0 116.9 5.8 A7.8 7.8 0 0 0 113.6 -0.6 Z" fill="url(#wedge)"/>
<g fill="none" stroke="#3A66D0"><circle cx="109.1" cy="5.8" r="3.6" stroke-width="1" opacity="0.75"/><circle cx="109.1" cy="5.8" r="6.9" stroke-width="1" opacity="0.55"/></g>
<circle cx="108.9" cy="5.6" r="1.6" fill="#2458CC"/><rect x="108.6" y="6" width="1.3" height="7.6" fill="#18A020"/>
<path d="M128.4 5.6 L143.8 4.4 L135.8 13.6 Z" fill="url(#yel)" stroke="#C89818" stroke-width="0.8"/>
<ellipse cx="135.9" cy="3.3" rx="7.9" ry="2.4" fill="#4AA4D8" stroke="#2C80C0" stroke-width="0.5"/><ellipse cx="135.9" cy="0.6" rx="4.6" ry="3.4" fill="url(#hat)"/>
<circle cx="140.4" cy="9.6" r="4" fill="#D8281C"/><rect x="139" y="8.2" width="3" height="3" fill="#fff"/>
<rect x="204" y="0" width="1" height="16" fill="#A0A0A0" shape-rendering="crispEdges"/>
<g shape-rendering="crispEdges"><rect x="208" y="0" width="3" height="1" fill="#B8B8B8"/><rect x="208" y="2" width="3" height="1" fill="#B8B8B8"/><rect x="208" y="4" width="3" height="1" fill="#B8B8B8"/><rect x="208" y="6" width="3" height="1" fill="#B8B8B8"/><rect x="208" y="8" width="3" height="1" fill="#B8B8B8"/><rect x="208" y="10" width="3" height="1" fill="#B8B8B8"/><rect x="208" y="12" width="3" height="1" fill="#B8B8B8"/><rect x="208" y="14" width="3" height="1" fill="#B8B8B8"/></g>
<g shape-rendering="crispEdges" fill="#505050"><rect x="222" y="0" width="1" height="14"/><rect x="220" y="11" width="14" height="1"/><rect x="221" y="1" width="3" height="1"/><rect x="232" y="10" width="1" height="3"/></g>
<g shape-rendering="crispEdges" fill="#18A028"><rect x="229" y="1" width="1" height="9"/><rect x="230" y="2" width="2" height="1"/><rect x="227" y="8" width="2" height="1"/></g>
<g shape-rendering="crispEdges"><rect x="242" y="0" width="26" height="17" fill="#FFFFFF"/><rect x="243" y="0" width="24" height="16" fill="#F8F8F8"/><rect x="242" y="0" width="1" height="16" fill="#808080"/></g>
<g shape-rendering="crispEdges" fill="#505050"><rect x="250" y="0" width="1" height="14"/><rect x="248" y="11" width="14" height="1"/><rect x="249" y="1" width="3" height="1"/><rect x="260" y="10" width="1" height="3"/></g>
<g shape-rendering="crispEdges"><rect x="254" y="0" width="5" height="8" fill="#008A00"/><rect x="255" y="1" width="3" height="6" fill="url(#grn)"/><rect x="256" y="8" width="1" height="2" fill="#008A00"/></g>
<g shape-rendering="crispEdges" fill="#505050"><rect x="278" y="0" width="1" height="14"/><rect x="276" y="11" width="14" height="1"/><rect x="277" y="1" width="3" height="1"/><rect x="288" y="10" width="1" height="3"/></g>
<path d="M277.2 8.6 Q280.5 5.5 282.3 3.8 Q283.5 3 284.8 4 Q287 6.2 289 7.2" fill="none" stroke="#2A9A2A" stroke-width="1.1"/>
<rect x="299" y="0" width="1" height="16" fill="#A0A0A0" shape-rendering="crispEdges"/>
<line x1="317.40000000000003" y1="8" x2="323.1" y2="12.2" stroke="#B8922A" stroke-width="3" stroke-linecap="round"/><line x1="317.6" y1="8" x2="323.0" y2="12" stroke="#F0D060" stroke-width="1.4" stroke-linecap="round"/><circle cx="313.8" cy="4.4" r="5.1" fill="url(#lens)" stroke="#4C8CD0" stroke-width="1"/><rect x="310.8" y="3.8" width="6" height="1.3" fill="#2E6CC8"/><rect x="313.15000000000003" y="1.4" width="1.3" height="6" fill="#2E6CC8"/>
<line x1="345.5" y1="8" x2="351.2" y2="12.2" stroke="#B8922A" stroke-width="3" stroke-linecap="round"/><line x1="345.7" y1="8" x2="351.09999999999997" y2="12" stroke="#F0D060" stroke-width="1.4" stroke-linecap="round"/><circle cx="341.9" cy="4.4" r="5.1" fill="url(#lens)" stroke="#4C8CD0" stroke-width="1"/><rect x="338.9" y="3.8" width="6" height="1.3" fill="#2E6CC8"/>
<g shape-rendering="crispEdges"><rect x="364" y="-1" width="7.5" height="6.7" fill="#58A818"/><rect x="372.3" y="-1" width="7.7" height="6.7" fill="#2858C8"/><rect x="364" y="6.5" width="7.5" height="7.2" fill="#2858C8"/><rect x="372.3" y="6.5" width="7.7" height="7.2" fill="#58A818"/><rect x="366" y="1" width="5" height="3" fill="#E8F4D8"/><rect x="374" y="1" width="5" height="3" fill="#D8E4F8"/><rect x="366" y="9" width="5" height="3" fill="#D8E4F8"/><rect x="374" y="9" width="5" height="3" fill="#E8F4D8"/><rect x="367" y="2" width="3" height="1" fill="#58A818"/><rect x="375" y="2" width="3" height="1" fill="#2858C8"/><rect x="367" y="10" width="3" height="1" fill="#2858C8"/><rect x="375" y="10" width="3" height="1" fill="#58A818"/></g>
<rect x="389" y="0" width="1" height="16" fill="#A0A0A0" shape-rendering="crispEdges"/>
<g shape-rendering="crispEdges"><rect x="394" y="0" width="26" height="17" fill="#FFFFFF"/><rect x="395" y="0" width="24" height="16" fill="#F8F8F8"/><rect x="394" y="0" width="1" height="16" fill="#808080"/></g>
<g shape-rendering="crispEdges" fill="#505050"><rect x="402" y="0" width="1" height="14"/><rect x="400" y="11" width="14" height="1"/><rect x="401" y="1" width="3" height="1"/><rect x="412" y="10" width="1" height="3"/></g>
<path d="M407.5 2.3 L411.4 5.6 L407.5 8.9 Z" fill="#7AE07A" stroke="#18A028" stroke-width="1"/>
<g shape-rendering="crispEdges"><rect x="422" y="0" width="26" height="17" fill="#FFFFFF"/><rect x="423" y="0" width="24" height="16" fill="#F8F8F8"/><rect x="422" y="0" width="1" height="16" fill="#808080"/></g>
<g shape-rendering="crispEdges" fill="#505050"><rect x="430" y="0" width="1" height="14"/><rect x="428" y="11" width="14" height="1"/><rect x="429" y="1" width="3" height="1"/><rect x="440" y="10" width="1" height="3"/></g>
<rect x="436" y="0" width="1" height="10" fill="#2060C0" shape-rendering="crispEdges"/>
<path d="M437.5 5.5 L441 3 L441 8 Z" fill="#E04010"/><rect x="440" y="5" width="3" height="1" fill="#E04010"/>
<rect x="451" y="0" width="1" height="16" fill="#A0A0A0" shape-rendering="crispEdges"/>
<path d="M461.5 -1 L469 -1 L472.5 2 L472.5 11 L461.5 11 Z" fill="#F4F4F4" stroke="#808080" stroke-width="0.9"/>
<path d="M465.5 8.5 L465.5 3.2 Q465.5 2 467 2 M464 5 L467.3 5" fill="none" stroke="#606060" stroke-width="0.9"/>
<path d="M469.3 4.5 L473.2 4.5 L473.2 8 L476.8 8 L476.8 11.9 L473.2 11.9 L473.2 15.5 L469.3 15.5 L469.3 11.9 L465.7 11.9 L465.7 8 L469.3 8 Z" fill="#2CCB2C" stroke="#0A8A0A" stroke-width="0.9"/>
<path d="M483 5 L488 5 L485.5 8 Z" fill="#000"/>
<circle cx="507.1" cy="5.6" r="6.8" fill="#ECECEC" stroke="#1C68D2" stroke-width="2.4"/>
<path d="M507.1 2 L507.1 5.9 L509.6 6.6" fill="none" stroke="#505050" stroke-width="0.9"/>
<path d="M522 5 L527 5 L524.5 8 Z" fill="#000"/>
<g shape-rendering="crispEdges"><rect x="538" y="-1" width="16" height="14" fill="#3A80D8"/><rect x="539" y="1" width="14" height="11" fill="#FFFFFF"/><rect x="539" y="6" width="14" height="1" fill="#3A80D8"/></g>
<path d="M540 4.8 L543 3.6 L546 4.2 L549 2.6 L552 3.2" fill="none" stroke="#C03020" stroke-width="1"/>
<path d="M540 10.2 L543 9 L546 9.8 L549 8.2 L552 9" fill="none" stroke="#20A030" stroke-width="1"/>
<path d="M561 5 L566 5 L563.5 8 Z" fill="#000"/>
<rect x="572" y="0" width="1" height="16" fill="#A0A0A0" shape-rendering="crispEdges"/>
<g shape-rendering="crispEdges"><rect x="576" y="0" width="3" height="1" fill="#B8B8B8"/><rect x="576" y="2" width="3" height="1" fill="#B8B8B8"/><rect x="576" y="4" width="3" height="1" fill="#B8B8B8"/><rect x="576" y="6" width="3" height="1" fill="#B8B8B8"/><rect x="576" y="8" width="3" height="1" fill="#B8B8B8"/><rect x="576" y="10" width="3" height="1" fill="#B8B8B8"/><rect x="576" y="12" width="3" height="1" fill="#B8B8B8"/><rect x="576" y="14" width="3" height="1" fill="#B8B8B8"/></g>
<g shape-rendering="crispEdges"><rect x="582" y="0" width="26" height="17" fill="#FFFFFF"/><rect x="583" y="0" width="24" height="16" fill="#F8F8F8"/><rect x="582" y="0" width="1" height="16" fill="#808080"/></g>
<path d="M590 -2 L590 10.2 L592.7 7.8 L594.9 12.8 L596.9 11.9 L594.8 7.1 L598.3 7 Z" fill="#383838"/>
<g shape-rendering="crispEdges" fill="#505050"><rect x="622" y="0" width="1" height="14"/><rect x="615" y="6" width="15" height="1"/></g><rect x="622" y="6" width="1" height="1" fill="#F0F0F0"/>
<rect x="639" y="0" width="1" height="16" fill="#A0A0A0" shape-rendering="crispEdges"/>
<g shape-rendering="crispEdges" fill="#505050"><rect x="656" y="0" width="1" height="13"/><rect x="679" y="6" width="12" height="1"/></g>
<line x1="707" y1="12.6" x2="718.8" y2="1" stroke="#505050" stroke-width="1"/>
<g stroke="#505050" stroke-width="1.1" fill="none"><line x1="733.2" y1="9.6" x2="745" y2="-0.6"/><line x1="734.6" y1="12.8" x2="747.6" y2="1.6"/></g>
<g stroke="#505050" stroke-width="0.8" fill="none"><line x1="735.6" y1="6.6" x2="737.2" y2="11.4"/><line x1="737.8" y1="4.8" x2="739.4" y2="9.6"/><line x1="740" y1="3" x2="741.6" y2="7.8"/><line x1="742.2" y1="1.2" x2="743.8" y2="6"/><line x1="744.4" y1="-0.4" x2="746" y2="4"/><line x1="734.5" y1="9.8" x2="746.5" y2="0.6" stroke-dasharray="1.2 1"/></g>
<text x="743.5" y="15" font-family="Liberation Sans, sans-serif" font-size="7.2" font-weight="bold" fill="#383838">E</text>
<g shape-rendering="crispEdges" fill="#505050"><rect x="762" y="2" width="1" height="1"/><rect x="764" y="2" width="1" height="1"/><rect x="766" y="2" width="1" height="1"/><rect x="768" y="2" width="1" height="1"/><rect x="770" y="2" width="1" height="1"/><rect x="772" y="2" width="1" height="1"/><rect x="774" y="2" width="1" height="1"/><rect x="762" y="6" width="1" height="1"/><rect x="764" y="6" width="1" height="1"/><rect x="766" y="6" width="1" height="1"/><rect x="768" y="6" width="1" height="1"/><rect x="770" y="6" width="1" height="1"/><rect x="772" y="6" width="1" height="1"/><rect x="774" y="6" width="1" height="1"/><rect x="762" y="10" width="1" height="1"/><rect x="764" y="10" width="1" height="1"/><rect x="766" y="10" width="1" height="1"/><rect x="768" y="10" width="1" height="1"/><rect x="770" y="10" width="1" height="1"/></g>
<text x="771.7" y="15" font-family="Liberation Sans, sans-serif" font-size="7.2" font-weight="bold" fill="#383838">F</text>
<text x="792.8" y="10.2" font-family="Liberation Sans, sans-serif" font-size="11.5" fill="#484848" stroke="#484848" stroke-width="0.3">A</text>
<rect x="819.5" y="0.5" width="11" height="12" fill="none" stroke="#505050" stroke-width="1" stroke-dasharray="1 1" shape-rendering="crispEdges"/>
<text x="821.6" y="10.4" font-family="Liberation Sans, sans-serif" font-size="11" fill="#484848" stroke="#484848" stroke-width="0.3">T</text>
<path d="M846.2 2.3 L849.5 -0.3 L852.8 2.3 L849.5 4.8 Z" fill="#404040"/><path d="M853.2 9.9 L856.5 7.4 L859.8 9.9 L856.5 12.6 Z" fill="#404040"/><path d="M848.2 7.4 L850.8 9.8 L854.8 4.2" fill="none" stroke="#404040" stroke-width="1.2"/>
<path d="M867 5 L872 5 L869.5 8 Z" fill="#000"/>
<rect x="878" y="0" width="1" height="18" fill="#A0A0A0" shape-rendering="crispEdges"/>
<g shape-rendering="crispEdges"><rect x="882" y="0" width="3" height="1" fill="#B8B8B8"/><rect x="882" y="2" width="3" height="1" fill="#B8B8B8"/><rect x="882" y="4" width="3" height="1" fill="#B8B8B8"/><rect x="882" y="6" width="3" height="1" fill="#B8B8B8"/><rect x="882" y="8" width="3" height="1" fill="#B8B8B8"/><rect x="882" y="10" width="3" height="1" fill="#B8B8B8"/><rect x="882" y="12" width="3" height="1" fill="#B8B8B8"/><rect x="882" y="14" width="3" height="1" fill="#B8B8B8"/></g>
<text x="893.75" y="10" font-family="Liberation Sans, sans-serif" font-size="9.8" text-rendering="geometricPrecision" textLength="12.25" lengthAdjust="spacingAndGlyphs" fill="#404040">M1</text>
<text x="922" y="10" font-family="Liberation Sans, sans-serif" font-size="9.8" text-rendering="geometricPrecision" textLength="11.75" lengthAdjust="spacingAndGlyphs" fill="#404040">M5</text>
<text x="947.5" y="10" font-family="Liberation Sans, sans-serif" font-size="9.8" text-rendering="geometricPrecision" textLength="17.5" lengthAdjust="spacingAndGlyphs" fill="#404040">M15</text>
<text x="975.6" y="10" font-family="Liberation Sans, sans-serif" font-size="9.8" text-rendering="geometricPrecision" textLength="17.4" lengthAdjust="spacingAndGlyphs" fill="#404040">M30</text>
<text x="1007" y="10" font-family="Liberation Sans, sans-serif" font-size="9.8" text-rendering="geometricPrecision" textLength="11" lengthAdjust="spacingAndGlyphs" fill="#404040">H1</text>
<g shape-rendering="crispEdges"><rect x="1028" y="0" width="26" height="17" fill="#FFFFFF"/><rect x="1029" y="0" width="24" height="16" fill="#F8F8F8"/><rect x="1028" y="0" width="1" height="16" fill="#808080"/></g>
<text x="1033.75" y="10" font-family="Liberation Sans, sans-serif" font-size="9.8" text-rendering="geometricPrecision" textLength="11.85" lengthAdjust="spacingAndGlyphs" fill="#404040">H4</text>
<text x="1062.5" y="10" font-family="Liberation Sans, sans-serif" font-size="9.8" text-rendering="geometricPrecision" textLength="11.25" lengthAdjust="spacingAndGlyphs" fill="#404040">D1</text>
<text x="1090" y="10" font-family="Liberation Sans, sans-serif" font-size="9.8" text-rendering="geometricPrecision" textLength="13.75" lengthAdjust="spacingAndGlyphs" fill="#404040">W1</text>
<text x="1117" y="10" font-family="Liberation Sans, sans-serif" font-size="9.8" text-rendering="geometricPrecision" textLength="14" lengthAdjust="spacingAndGlyphs" fill="#404040">MN</text>
<rect x="1139" y="0" width="1" height="18" fill="#A0A0A0" shape-rendering="crispEdges"/>
<line x1="1606.6" y1="6.6" x2="1602.6" y2="10.6" stroke="#2A5FD0" stroke-width="2.3" stroke-linecap="round"/><circle cx="1609.6" cy="3.4" r="3.9" fill="#F4F6FC" stroke="#2A5FD0" stroke-width="1.1"/>
<path d="M1626.6 8.2 a5 4.1 0 1 1 6.2 4 L1629.4 14.4 L1630.2 12.2 A5 4.1 0 0 1 1626.6 8.2 Z" fill="#E6E8EE" stroke="#B0B0B4" stroke-width="0.8"/>
<circle cx="1640.5" cy="3.6" r="8.2" fill="url(#redc)"/>
<text x="1639.8" y="8" text-anchor="middle" font-family="Liberation Serif, serif" font-size="13" font-weight="bold" fill="#fff">1</text>
</svg></div>
<div id="tbline1"></div><div id="tbline2"></div><div id="tbline3"></div>
<div id="lft"></div><div id="lft2"></div><div id="rgt"></div><div id="rgt2"></div><div id="btm"></div><div id="btm2"></div>
</body></html>
